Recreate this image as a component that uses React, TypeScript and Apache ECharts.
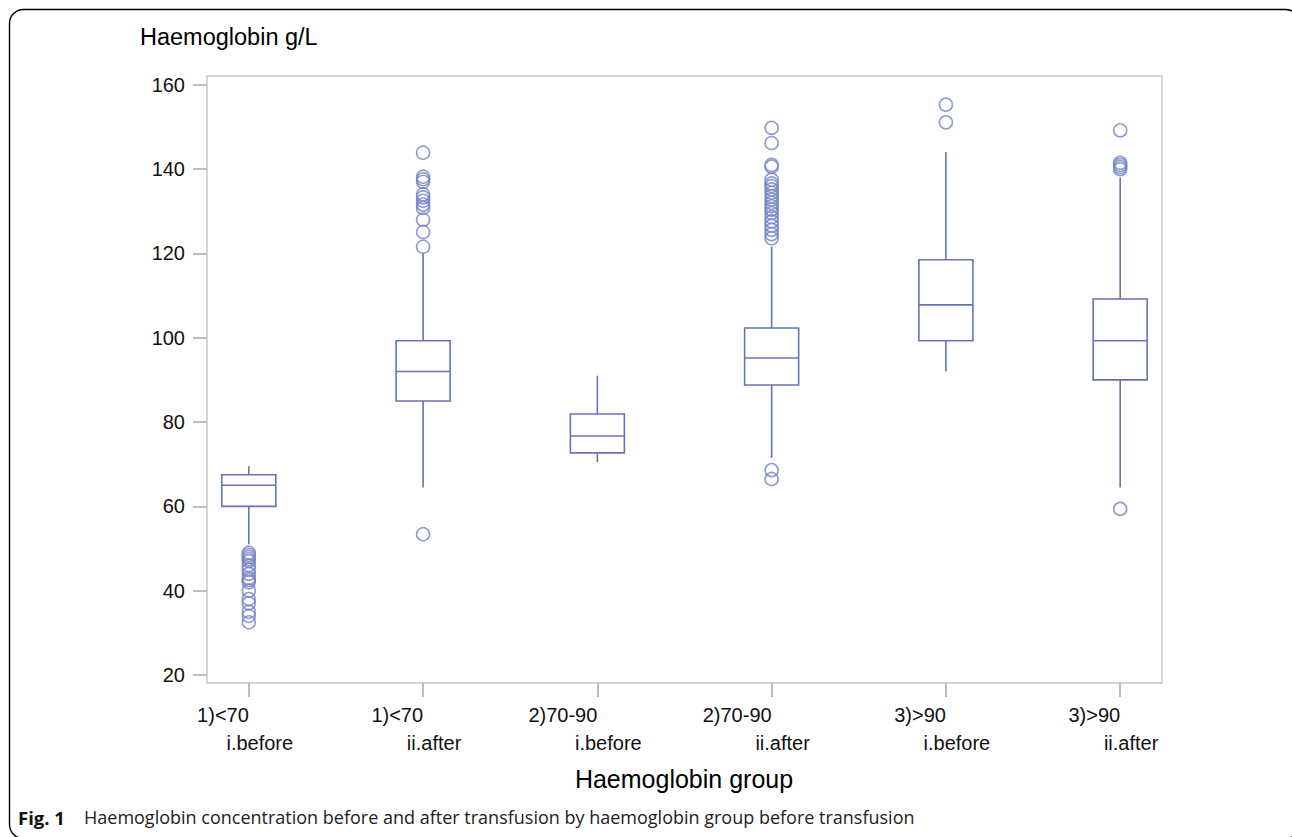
import React, { useEffect, useRef } from "react";
import * as echarts from "echarts";

// Categories (two-line tick labels)
const catLine1 = ["1)<70", "1)<70", "2)70-90", "2)70-90", "3)>90", "3)>90"];
const catLine2 = ["i.before", "ii.after", "i.before", "ii.after", "i.before", "ii.after"];

// Box statistics per category: [lower whisker, Q1, median, Q3, upper whisker]
const box1 = [51, 60, 65, 67.5, 69.5];
const box2 = [64.5, 85, 92, 99.3, 120];
const box3 = [70.5, 72.7, 76.7, 81.9, 91];
const box4 = [71.5, 88.8, 95.2, 102.3, 121.6];
const box5 = [92, 99.3, 107.8, 118.5, 144.1];
const box6 = [64.5, 90, 99.3, 109.2, 138];

// Outliers per category
const out1 = [49, 48.5, 48, 47.5, 47, 46, 45, 44, 43, 42.5, 42, 40, 38, 37, 35, 34, 32.5];
const out2 = [143.9, 138.2, 137.6, 137, 134, 133.3, 132.5, 131.6, 130.8, 128, 125.1, 121.6, 53.4];
const out3: number[] = [];
const out4 = [149.8, 146.2, 141, 140.6, 137.5, 136.6, 136, 135.2, 134.4, 133.6, 132.8, 132, 131.2, 130.4, 129.6, 128.6, 127.6, 126.6, 125.6, 124.6, 123.6, 68.6, 66.5];
const out5 = [155.3, 151.1];
const out6 = [149.2, 141.5, 141, 140.5, 140, 59.4];

// Y tick labels
const yTicks = [20, 40, 60, 80, 100, 120, 140, 160];

const boxes = [box1, box2, box3, box4, box5, box6];
const outliers = [out1, out2, out3, out4, out5, out6];

const LINE = "#6673b6";
const MARK = "#7683c6";
const FONT = "'Liberation Sans', Arial, sans-serif";
const CAPFONT = "'Open Sans', 'Noto Sans', sans-serif";

export default function App() {
  const ref = useRef<HTMLDivElement>(null);
  useEffect(() => {
    if (!ref.current) return;
    const chart = echarts.init(ref.current, undefined, { renderer: "svg" });
    const positions = [1, 2, 3, 4, 5, 6];
    const boxData = boxes.map((b, i) => [positions[i], ...b]);
    const outData: number[][] = [];
    outliers.forEach((arr, i) => arr.forEach((v) => outData.push([positions[i], v])));
    const xMin = 0.76;
    const xMax = 6.24;
    const shift = 0.063;

    chart.setOption({
      animation: false,
      backgroundColor: "#ffffff",
      grid: {
        left: 207,
        right: 130,
        top: 76,
        bottom: 154,
        containLabel: false,
        show: true,
        borderColor: "#c8c8c8",
        borderWidth: 1.5,
        backgroundColor: "transparent",
      },
      xAxis: [
        {
          type: "value",
          min: xMin,
          max: xMax,
          position: "bottom",
          axisLine: { show: false },
          splitLine: { show: false },
          axisTick: {
            show: true,
            length: 14,
            customValues: positions,
            lineStyle: { color: "#a8a8a8", width: 1.5 },
          },
          axisLabel: {
            customValues: positions,
            formatter: (v: number) => catLine1[Math.round(v) - 1] ?? "",
            align: "right",
            margin: 22,
            fontFamily: FONT,
            fontSize: 20,
            color: "#111",
          },
        },
        {
          type: "value",
          min: xMin - shift,
          max: xMax - shift,
          position: "bottom",
          gridIndex: 0,
          axisLine: { show: false },
          splitLine: { show: false },
          axisTick: { show: false },
          axisLabel: {
            customValues: positions,
            formatter: (v: number) => catLine2[Math.round(v) - 1] ?? "",
            align: "center",
            margin: 50,
            fontFamily: FONT,
            fontSize: 20,
            color: "#111",
          },
        },
      ],
      yAxis: {
        type: "value",
        min: 18.1,
        max: 162.1,
        axisLine: { show: false },
        splitLine: { show: false },
        axisTick: {
          show: true,
          length: 14,
          customValues: yTicks,
          lineStyle: { color: "#a8a8a8", width: 1.5 },
        },
        axisLabel: {
          customValues: yTicks,
          margin: 22,
          fontFamily: FONT,
          fontSize: 20,
          color: "#111",
        },
      },
      series: [
        {
          type: "custom",
          xAxisIndex: 0,
          encode: { x: 0, y: [1, 2, 3, 4, 5] },
          data: boxData,
          renderItem: (params: any, api: any) => {
            const x = api.value(0);
            const lo = api.coord([x, api.value(1)]);
            const q1 = api.coord([x, api.value(2)]);
            const md = api.coord([x, api.value(3)]);
            const q3 = api.coord([x, api.value(4)]);
            const hi = api.coord([x, api.value(5)]);
            const w = api.size([0.31, 0])[0];
            const style = { stroke: LINE, lineWidth: 1.6, fill: null };
            return {
              type: "group",
              children: [
                { type: "line", shape: { x1: lo[0], y1: lo[1], x2: q1[0], y2: q1[1] }, style },
                { type: "line", shape: { x1: q3[0], y1: q3[1], x2: hi[0], y2: hi[1] }, style },
                {
                  type: "rect",
                  shape: { x: q1[0] - w / 2, y: q3[1], width: w, height: q1[1] - q3[1] },
                  style,
                },
                {
                  type: "line",
                  shape: { x1: md[0] - w / 2, y1: md[1], x2: md[0] + w / 2, y2: md[1] },
                  style,
                },
              ],
            };
          },
        },
        {
          type: "scatter",
          xAxisIndex: 0,
          data: outData,
          symbol: "circle",
          symbolSize: 13,
          itemStyle: { color: "rgba(0,0,0,0)", borderColor: MARK, borderWidth: 1.6 },
        },
      ],
      graphic: [
        {
          type: "rect",
          shape: { x: 9.5, y: 9.5, width: 1290, height: 829, r: 14 },
          style: { fill: "none", stroke: "#000", lineWidth: 1.4 },
          silent: true,
        },
        {
          type: "text",
          x: 140,
          y: 37,
          style: {
            text: "Haemoglobin g/L",
            fontFamily: FONT,
            fontSize: 23.5,
            fill: "#000",
            textVerticalAlign: "middle",
          },
        },
        {
          type: "text",
          x: 684,
          y: 779,
          style: {
            text: "Haemoglobin group",
            fontFamily: FONT,
            fontSize: 25,
            fill: "#000",
            textAlign: "center",
            textVerticalAlign: "middle",
          },
        },
        {
          type: "text",
          x: 18,
          y: 817,
          style: {
            text: "Fig. 1",
            fontFamily: CAPFONT,
            fontWeight: "bold",
            fontSize: 18.5,
            fill: "#111",
            textVerticalAlign: "middle",
          },
        },
        {
          type: "text",
          x: 84,
          y: 817,
          style: {
            text: "Haemoglobin concentration before and after transfusion by haemoglobin group before transfusion",
            fontFamily: CAPFONT,
            fontSize: 18,
            fill: "#222",
            textVerticalAlign: "middle",
          },
        },
      ],
    });
    return () => chart.dispose();
  }, []);
  return (
    <div
      ref={ref}
      style={{ position: "fixed", left: 0, top: 0, width: 1292, height: 837 }}
    />
  );
}
